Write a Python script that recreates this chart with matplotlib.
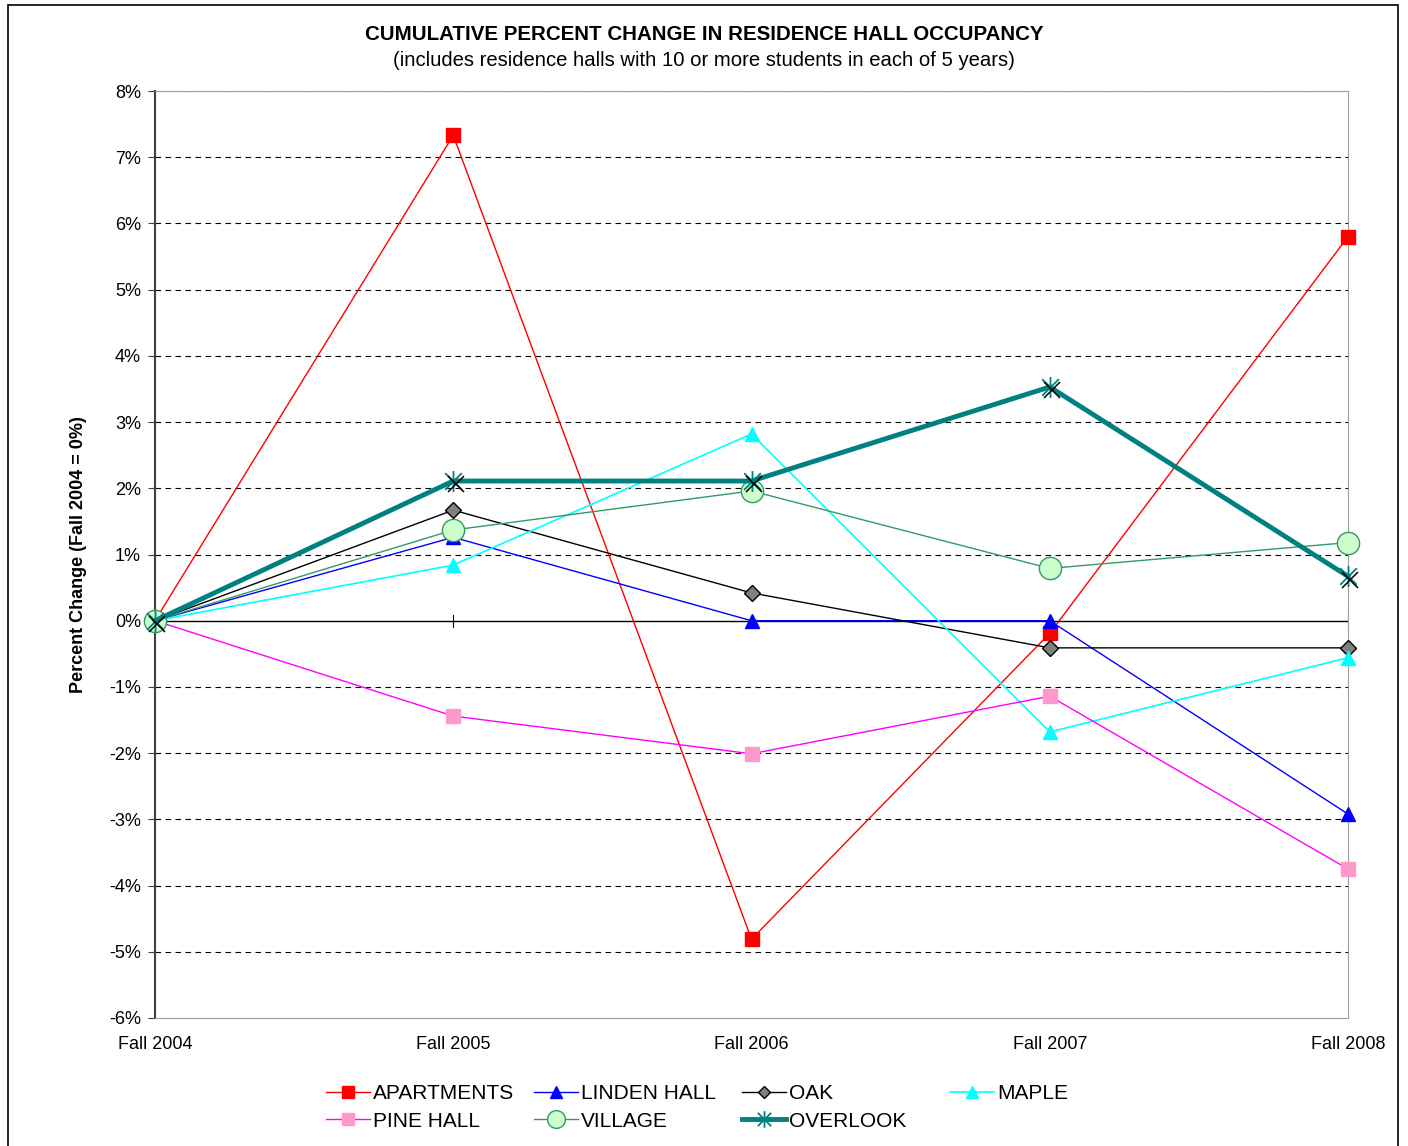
import numpy as np
import matplotlib.pyplot as plt
from matplotlib.patches import Rectangle
from matplotlib.path import Path

plt.rcParams['font.family'] = ['Liberation Sans', 'DejaVu Sans']

years = ['Fall 2004', 'Fall 2005', 'Fall 2006', 'Fall 2007', 'Fall 2008']
apartments = [0, 7.33, -4.81, -0.19, 5.80]
linden = [0, 1.26, 0.0, 0.0, -2.92]
oak = [0, 1.67, 0.42, -0.41, -0.41]
maple = [0, 0.84, 2.82, -1.68, -0.56]
pine = [0, -1.44, -2.01, -1.14, -3.75]
village = [0, 1.37, 1.96, 0.79, 1.18]
overlook = [0, 2.11, 2.11, 3.53, 0.67]

# excel style star: vertical bar + x
star = Path([(0, -1), (0, 1), (-0.8, -0.8), (0.8, 0.8), (-0.8, 0.8), (0.8, -0.8)],
            [Path.MOVETO, Path.LINETO, Path.MOVETO, Path.LINETO, Path.MOVETO, Path.LINETO])

fig = plt.figure(figsize=(14.08, 11.46), dpi=100)
fig.patches.append(Rectangle((8/1408, -0.01), 1390/1408, 1 - 5/1146 + 0.01,
                             transform=fig.transFigure, fill=False,
                             edgecolor='black', linewidth=1.2))
ax = fig.add_axes([155/1408, 1 - 1018/1146, 1193/1408, 927/1146])
x = np.arange(len(years))

for v in range(-5, 9):
    if v != 0:
        ax.axhline(v, color='black', linestyle=(0, (5, 4)), linewidth=0.8, zorder=1)
ax.axhline(0, color='black', linewidth=1.0, zorder=1)
for xi in x[1:]:
    ax.plot([xi, xi], [-0.09, 0.09], color='black', linewidth=0.8, zorder=1)

kw = dict(clip_on=False)
h = {}
h['APARTMENTS'], = ax.plot(x, apartments, color='red', linewidth=1, marker='s',
                           markersize=10, markerfacecolor='red', markeredgecolor='red', zorder=3, **kw)
h['LINDEN HALL'], = ax.plot(x, linden, color='blue', linewidth=1, marker='^',
                            markersize=10, markerfacecolor='blue', markeredgecolor='blue', zorder=3, **kw)
h['OAK'], = ax.plot(x, oak, color='black', linewidth=1, marker='D',
                    markersize=8, markerfacecolor='#808080', markeredgecolor='black', zorder=3, **kw)
h['MAPLE'], = ax.plot(x, maple, color='cyan', linewidth=1.2, marker='^',
                      markersize=10, markerfacecolor='cyan', markeredgecolor='cyan', zorder=3, **kw)
h['PINE HALL'], = ax.plot(x, pine, color='magenta', linewidth=1, marker='s',
                          markersize=10, markerfacecolor='#ff99cc', markeredgecolor='#ff99cc', zorder=3, **kw)
h['VILLAGE'], = ax.plot(x, village, color='#339966', linewidth=1, marker='o',
                        markersize=16, markerfacecolor='#ccffcc', markeredgecolor='#339966', zorder=3, **kw)
h['OVERLOOK'], = ax.plot(x, overlook, color='#008080', linewidth=3.5, marker=star,
                         markersize=15, markeredgewidth=1.3, markeredgecolor='#008080', zorder=4, **kw)
ax.plot(x + 0.008, np.array(overlook) - 0.05, linestyle='none', marker='x', markersize=11,
        markeredgewidth=1.1, markeredgecolor='black', zorder=5, **kw)

ax.set_xlim(0, 4)
ax.set_ylim(-6, 8)
ax.set_yticks(range(-6, 9))
ax.set_yticklabels([f'{v}%' for v in range(-6, 9)], fontsize=13)
ax.set_xticks(x)
ax.set_xticklabels(years, fontsize=13)
ax.tick_params(axis='x', length=0, pad=13)
ax.tick_params(axis='y', length=5, direction='out', color='#404040', pad=5)
for s in ['top', 'right', 'bottom']:
    ax.spines[s].set_color('#a0a0a0')
ax.spines['left'].set_color('#404040')
ax.spines['left'].set_linewidth(1.5)
ax.set_ylabel('Percent Change (Fall 2004 = 0%)', fontsize=13, fontweight='bold', labelpad=16)

fig.text(0.5, 1 - 34/1146, 'CUMULATIVE PERCENT CHANGE IN RESIDENCE HALL OCCUPANCY',
         ha='center', va='center', fontsize=14.8, fontweight='bold')
fig.text(0.5, 1 - 60/1146, '(includes residence halls with 10 or more students in each of 5 years)',
         ha='center', va='center', fontsize=14.6)

columns = [['APARTMENTS', 'PINE HALL'], ['LINDEN HALL', 'VILLAGE'],
           ['OAK', 'OVERLOOK'], ['MAPLE']]
col_x = [326, 534, 742, 950]
for names, cx in zip(columns, col_x):
    fig.legend([h[k] for k in names], names, loc='upper left',
               bbox_to_anchor=(cx/1408, 1 - 1084/1146), frameon=False,
               fontsize=15, handlelength=2.1, borderpad=0, borderaxespad=0,
               labelspacing=0.42, handletextpad=0.15, markerscale=0.8)

fig.savefig('out.png', dpi=100)
